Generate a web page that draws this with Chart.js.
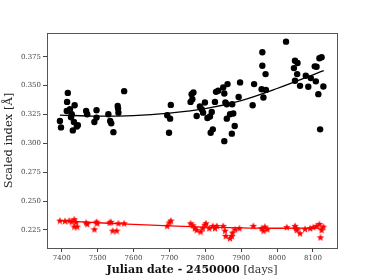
<!DOCTYPE html>
<html>
<head>
<meta charset="utf-8">
<script src="https://cdn.jsdelivr.net/npm/chart.js@4/dist/chart.umd.min.js"></script>
<style>
  html, body { margin: 0; padding: 0; background: #fff; }
  #wrap { width: 374px; height: 280px; }
</style>
</head>
<body>
<div id="wrap"><canvas id="chart" width="374" height="280"></canvas></div>
<script>
// --- dades ---
const blackDates = [7395, 7398, 7417, 7415, 7414, 7423, 7428, 7426, 7436, 7434, 7431, 7442, 7445,
  7468, 7471, 7491, 7497, 7497, 7530, 7535, 7538, 7544, 7556, 7557, 7558, 7574,
  7694, 7702, 7704, 7699, 7762, 7767, 7764, 7759, 7776, 7785, 7790, 7794, 7799, 7806,
  7813, 7818, 7815, 7821, 7827, 7830, 7836, 7850, 7853, 7856, 7860, 7862, 7860, 7869,
  7875, 7878, 7882, 7874, 7893, 7897, 7932, 7936, 7957, 7962, 7969, 7959, 7959, 7968,
  8025, 8047, 8050, 8057, 8056, 8050, 8064, 8080, 8087, 8094, 8105, 8110, 8108, 8115,
  8118, 8124, 8129, 8120, 7853];
const blackIndex = [0.3193, 0.3138, 0.3437, 0.3359, 0.3280, 0.3295, 0.3252, 0.3226, 0.3330, 0.3185, 0.3112, 0.3145, 0.3156,
  0.3280, 0.3252, 0.3185, 0.3287, 0.3223, 0.3252, 0.3193, 0.3173, 0.3097, 0.3324, 0.3301, 0.3266, 0.3452,
  0.3243, 0.3214, 0.3333, 0.3092, 0.3426, 0.3441, 0.3382, 0.3359, 0.3237, 0.3319, 0.3295, 0.3266, 0.3354, 0.3219,
  0.3232, 0.3272, 0.3092, 0.3121, 0.3359, 0.3446, 0.3455, 0.3484, 0.3432, 0.3354, 0.3339, 0.3513, 0.3214, 0.3252,
  0.3339, 0.3258, 0.3150, 0.3084, 0.3402, 0.3528, 0.3330, 0.3513, 0.3469, 0.3397, 0.3463, 0.3789, 0.3672, 0.3600,
  0.3881, 0.3652, 0.3716, 0.3696, 0.3600, 0.3542, 0.3498, 0.3585, 0.3490, 0.3565, 0.3667, 0.3664, 0.3537, 0.3426,
  0.3737, 0.3746, 0.3493, 0.3121, 0.3019];

const redDates = [7395, 7409, 7421, 7428, 7435, 7440, 7435, 7443, 7468, 7471, 7491, 7499, 7497,
  7533, 7537, 7542, 7553, 7558, 7574, 7694, 7700, 7704, 7759, 7765, 7771, 7776, 7787, 7793,
  7799, 7802, 7811, 7821, 7827, 7832, 7850, 7855, 7857, 7869, 7874, 7876, 7883, 7895,
  7934, 7957, 7962, 7966, 7973, 8027, 8050, 8055, 8053, 8064, 8078, 8092, 8101, 8110,
  8118, 8121, 8124, 8129];
const redIndex = [0.2331, 0.2328, 0.2331, 0.2322, 0.2343, 0.2317, 0.2279, 0.2279, 0.2314, 0.2302, 0.2256, 0.2308, 0.2322,
  0.2314, 0.2320, 0.2244, 0.2244, 0.2308, 0.2308, 0.2285, 0.2314, 0.2331, 0.2308, 0.2291, 0.2265, 0.2250, 0.2235, 0.2265,
  0.2294, 0.2308, 0.2265, 0.2285, 0.2265, 0.2285, 0.2285, 0.2244, 0.2198, 0.2178, 0.2198, 0.2227, 0.2256, 0.2265,
  0.2285, 0.2265, 0.2244, 0.2279, 0.2256, 0.2274, 0.2285, 0.2250, 0.2265, 0.2221, 0.2259, 0.2265, 0.2274, 0.2285,
  0.2302, 0.2186, 0.2250, 0.2279];

// corbes d'ajust llegides del gràfic
const fitDates = [7395, 7500, 7600, 7700, 7800, 7900, 8000, 8130];
const blackFit = [0.3245, 0.3235, 0.3240, 0.3262, 0.3300, 0.3370, 0.3475, 0.3630];
const redFit = [0.2330, 0.2312, 0.2298, 0.2285, 0.2274, 0.2267, 0.2264, 0.2265];

const xTicks = [7400, 7500, 7600, 7700, 7800, 7900, 8000, 8100];
const yTicks = [0.225, 0.250, 0.275, 0.300, 0.325, 0.350, 0.375];

const xTitleBold = "Julian date - 2450000 ";
const xTitleUnit = "[days]";
const yTitle = "Scaled index [Å]";

const pairs = (xs, ys) => xs.map((x, i) => ({ x, y: ys[i] }));

// estrella plena (com el marcador '*' de matplotlib)
function makeStar(size, color) {
  const c = document.createElement("canvas");
  c.width = size; c.height = size;
  const g = c.getContext("2d");
  const cx = size / 2, cy = size / 2 + 0.4, R = size / 2, r = R * 0.42;
  g.beginPath();
  for (let i = 0; i < 10; i++) {
    const a = -Math.PI / 2 + i * Math.PI / 5;
    const rad = i % 2 === 0 ? R : r;
    g.lineTo(cx + rad * Math.cos(a), cy + rad * Math.sin(a));
  }
  g.closePath();
  g.fillStyle = color;
  g.fill();
  return c;
}
const redStar = makeStar(8, "#ff0000");

const SERIF = "'DejaVu Serif', 'Liberation Serif', serif";

// marc i títols dels eixos
const framePlugin = {
  id: "frame",
  afterDraw(chart) {
    const { ctx, chartArea: a } = chart;
    ctx.save();
    ctx.strokeStyle = "#555";
    ctx.lineWidth = 1;
    ctx.strokeRect(a.left + 0.5, a.top + 0.5, a.right - a.left, a.bottom - a.top);

    // títol X (part en negreta + unitats)
    ctx.fillStyle = "#111";
    ctx.textBaseline = "middle";
    const boldFont = "bold 11px " + SERIF;
    const normFont = "11px " + SERIF;
    ctx.font = boldFont;
    const w1 = ctx.measureText(xTitleBold).width;
    ctx.font = normFont;
    const w2 = ctx.measureText(xTitleUnit).width;
    const cx = (a.left + a.right) / 2;
    let x0 = cx - (w1 + w2) / 2;
    ctx.textAlign = "left";
    ctx.font = boldFont;
    ctx.fillText(xTitleBold, x0, 270);
    ctx.font = normFont;
    ctx.fillStyle = "#333";
    ctx.fillText(xTitleUnit, x0 + w1, 270);

    // títol Y
    ctx.translate(9, (a.top + a.bottom) / 2);
    ctx.rotate(-Math.PI / 2);
    ctx.textAlign = "center";
    ctx.fillStyle = "#222";
    ctx.font = "11.5px " + SERIF;
    ctx.fillText(yTitle, 0, 0);
    ctx.restore();
  },
};

new Chart(document.getElementById("chart"), {
  type: "scatter",
  data: {
    datasets: [
      {
        type: "line",
        data: pairs(fitDates, blackFit),
        borderColor: "#000",
        borderWidth: 1.3,
        pointRadius: 0,
        cubicInterpolationMode: "monotone",
        fill: false,
      },
      {
        type: "line",
        data: pairs(fitDates, redFit),
        borderColor: "#ff0000",
        borderWidth: 1.3,
        pointRadius: 0,
        cubicInterpolationMode: "monotone",
        fill: false,
      },
      {
        data: pairs(blackDates, blackIndex),
        backgroundColor: "#000",
        borderColor: "#000",
        pointRadius: 3.2,
        borderWidth: 0,
      },
      {
        data: pairs(redDates, redIndex),
        pointStyle: redStar,
        backgroundColor: "#ff0000",
        borderColor: "#ff0000",
      },
    ],
  },
  options: {
    responsive: false,
    animation: false,
    events: [],
    layout: { padding: { left: 0, right: 37, top: 33, bottom: 0 } },
    plugins: { legend: { display: false }, tooltip: { enabled: false } },
    scales: {
      x: {
        type: "linear",
        min: 7359,
        max: 8167,
        afterBuildTicks: (s) => { s.ticks = xTicks.map((v) => ({ value: v })); },
        afterFit: (s) => { s.height = 32; },
        ticks: {
          font: { family: SERIF, size: 7 },
          color: "#444",
          padding: 2,
          maxRotation: 0,
          callback: (v) => String(v),
        },
        grid: { drawOnChartArea: false, drawTicks: true, tickLength: 4, color: "#444" },
        border: { display: true, color: "#555", width: 1 },
      },
      y: {
        min: 0.2093,
        max: 0.3956,
        afterBuildTicks: (s) => { s.ticks = yTicks.map((v) => ({ value: v })); },
        afterFit: (s) => { s.width = 47; },
        ticks: {
          font: { family: SERIF, size: 7 },
          color: "#444",
          padding: 2,
          callback: (v) => v.toFixed(3),
        },
        grid: { drawOnChartArea: false, drawTicks: true, tickLength: 4, color: "#444" },
        border: { display: true, color: "#555", width: 1 },
      },
    },
  },
  plugins: [framePlugin],
});
</script>
</body>
</html>
